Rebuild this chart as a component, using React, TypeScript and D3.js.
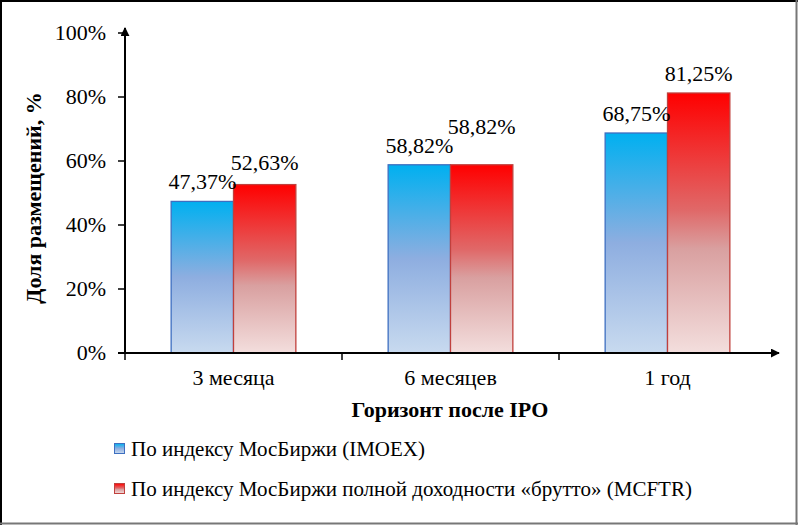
import React from "react";
import * as d3 from "d3";

const categories = ["3 месяца", "6 месяцев", "1 год"];
const seriesNames = [
  "По индексу МосБиржи (IMOEX)",
  "По индексу МосБиржи полной доходности «брутто» (MCFTR)",
];
const imoex = [0.4737, 0.5882, 0.6875];
const mcftr = [0.5263, 0.5882, 0.8125];
const yTicks = [0, 0.2, 0.4, 0.6, 0.8, 1];

const W = 798;
const H = 525;
const font = "'Liberation Serif', 'Times New Roman', serif";

const fmt = (v: number) => (v * 100).toFixed(2).replace(".", ",") + "%";

const App: React.FC = () => {
  const x = d3.scaleBand<string>().domain(categories).range([125, 776]);
  const inner = d3
    .scaleBand<number>()
    .domain([0, 1])
    .range([0, x.bandwidth()])
    .paddingOuter(0.74);
  const y = d3.scaleLinear().domain([0, 1]).range([353, 33]);
  const series = [imoex, mcftr];
  const gradIds = ["gBlue", "gRed"];
  const strokes = ["#3E6FC0", "#C0403D"];

  return (
    <div style={{ position: "fixed", left: 0, top: 0 }}>
      <svg width={W} height={H} style={{ display: "block", background: "#fff" }}>
        <defs>
          <linearGradient id="gBlue" x1="0" y1="0" x2="0" y2="1">
            <stop offset="0" stopColor="#00B0F0" />
            <stop offset="0.5" stopColor="#8EAEE0" />
            <stop offset="1" stopColor="#C8DAEF" />
          </linearGradient>
          <linearGradient id="gRed" x1="0" y1="0" x2="0" y2="1">
            <stop offset="0" stopColor="#FF0000" />
            <stop offset="0.45" stopColor="#E06868" />
            <stop offset="0.6" stopColor="#D9A0A0" />
            <stop offset="1" stopColor="#F3DEDD" />
          </linearGradient>
          <marker id="arrow" viewBox="0 0 10 10" refX="9" refY="5" markerWidth="9" markerHeight="9" markerUnits="userSpaceOnUse" orient="auto">
            <path d="M0,0 L10,5 L0,10 z" fill="#000" />
          </marker>
        </defs>

        {/* frame */}
        <line x1={1} y1={1} x2={W} y2={1} stroke="#000" strokeWidth={2} />
        <line x1={1} y1={0} x2={1} y2={H} stroke="#000" strokeWidth={2} />
        <line x1={W - 1.5} y1={0} x2={W - 1.5} y2={H} stroke="#777" strokeWidth={2} />
        <line x1={0} y1={H - 1.5} x2={W} y2={H - 1.5} stroke="#777" strokeWidth={2} />

        {/* bars */}
        {categories.map((c, i) =>
          series.map((s, k) => {
            const bx = (x(c) ?? 0) + (inner(k) ?? 0);
            return (
              <rect
                key={c + k}
                x={bx}
                y={y(s[i])}
                width={inner.bandwidth()}
                height={y(0) - y(s[i])}
                fill={`url(#${gradIds[k]})`}
                stroke={strokes[k]}
                strokeWidth={1.3}
              />
            );
          })
        )}

        {/* value labels */}
        {categories.map((c, i) =>
          series.map((s, k) => {
            const bx = (x(c) ?? 0) + (inner(k) ?? 0) + inner.bandwidth() / 2;
            let ly = y(s[i]) - 12;
            if (k === 1 && Math.abs(y(s[i]) - y(series[0][i])) < 20) ly = y(series[0][i]) - 31;
            return (
              <text key={"l" + c + k} x={bx} y={ly} textAnchor="middle" fontFamily={font} fontSize={22}>
                {fmt(s[i])}
              </text>
            );
          })
        )}

        {/* y axis */}
        <line x1={125} y1={y(0)} x2={125} y2={y(1) - 5} stroke="#000" strokeWidth={2} markerEnd="url(#arrow)" />
        {yTicks.map((t) => (
          <g key={t}>
            <line x1={118} x2={125} y1={y(t)} y2={y(t)} stroke="#000" strokeWidth={1.5} />
            <text x={106} y={y(t) + 7} textAnchor="end" fontFamily={font} fontSize={22}>
              {Math.round(t * 100)}%
            </text>
          </g>
        ))}

        {/* x axis */}
        <line x1={118} y1={y(0)} x2={779} y2={y(0)} stroke="#000" strokeWidth={2} markerEnd="url(#arrow)" />
        {categories.map((c) => (
          <g key={"t" + c}>
            <line x1={x(c)} x2={x(c)} y1={y(0)} y2={y(0) + 7} stroke="#000" strokeWidth={1.5} />
            <text x={(x(c) ?? 0) + x.bandwidth() / 2} y={385} textAnchor="middle" fontFamily={font} fontSize={22}>
              {c}
            </text>
          </g>
        ))}

        <text x={450} y={417} textAnchor="middle" fontFamily={font} fontSize={22} fontWeight="bold">
          Горизонт после IPO
        </text>
        <text
          transform="translate(41,198) rotate(-90)"
          textAnchor="middle"
          fontFamily={font}
          fontSize={22}
          fontWeight="bold"
        >
          Доля размещений, %
        </text>

        {/* legend */}
        {seriesNames.map((n, k) => (
          <g key={n} transform={`translate(114,${443 + k * 40})`}>
            <rect x={0.5} y={0.5} width={10} height={10} fill={`url(#${gradIds[k]})`} stroke={strokes[k]} strokeWidth={1} />
            <text x={17} y={13} fontFamily={font} fontSize={21}>
              {n}
            </text>
          </g>
        ))}
      </svg>
    </div>
  );
};

export default App;
